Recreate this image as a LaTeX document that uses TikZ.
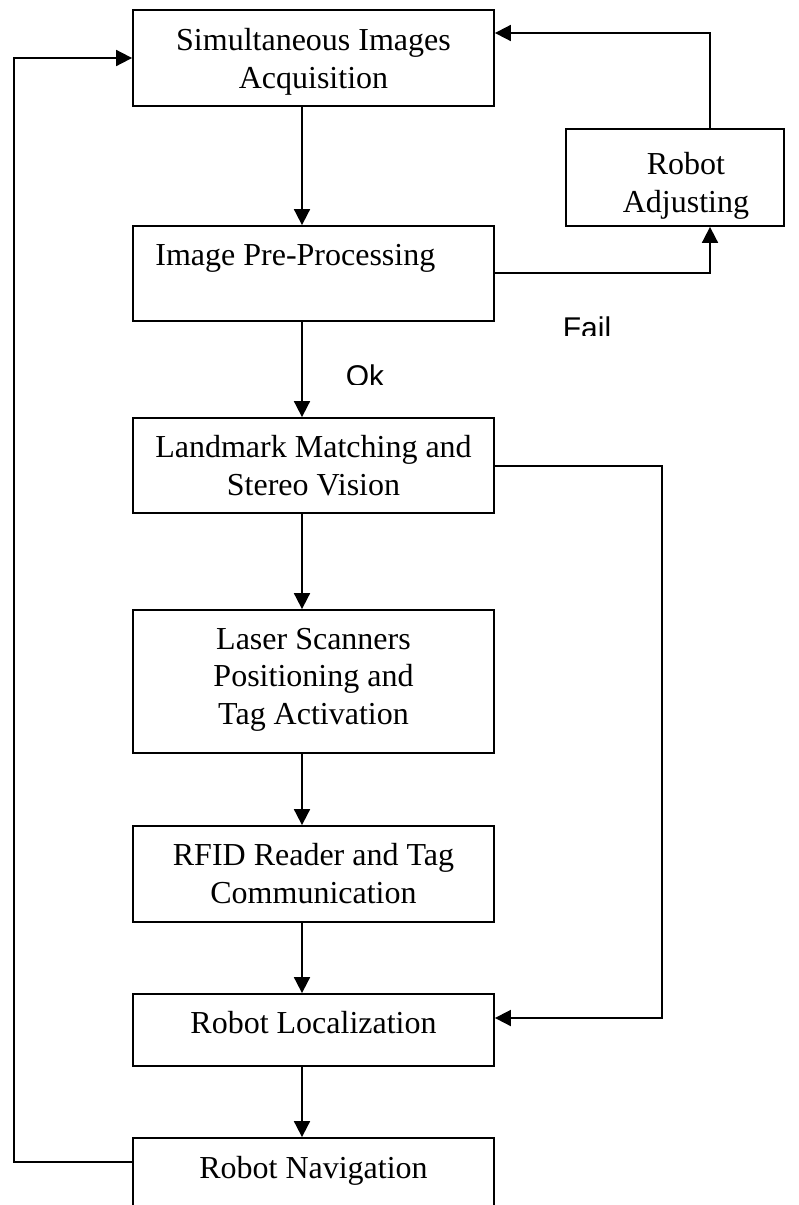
\documentclass[tikz,border=0pt]{standalone}
\usepackage{fontspec}
\setmainfont{Liberation Serif}
\newfontfamily\labelfont{Liberation Sans}
\usetikzlibrary{arrows.meta}
\begin{document}
\begin{tikzpicture}[x=0.5pt,y=-0.5pt,
  box/.style={draw, line width=0.9pt, rectangle, inner sep=0pt, minimum width=180.5pt},
  words/.style={font=\fontsize{16}{18.75}\selectfont, align=center, inner sep=0pt, anchor=base},
  flow/.style={line width=0.9pt, -{Triangle[length=8pt,width=8pt]}},
  tag/.style={font=\labelfont\fontsize{15}{18}\selectfont, inner sep=0pt, anchor=base}]
\useasboundingbox (0,0) rectangle (798,1205);
\clip (0,0) rectangle (798,1205);

% process boxes
\node[box, minimum height=48pt]   (acq)   at (313.5,58)    {};
\node[box, minimum height=47.5pt] (pre)   at (313.5,273.5) {};
\node[box, minimum height=47.5pt] (land)  at (313.5,465.5) {};
\node[box, minimum height=71.5pt] (laser) at (313.5,681.5) {};
\node[box, minimum height=48pt]   (rfid)  at (313.5,874)   {};
\node[box, minimum height=36pt]   (loc)   at (313.5,1030)  {};
\node[box, minimum height=56pt]   (nav)   at (313.5,1194)  {};
\node[box, minimum width=109pt, minimum height=48.5pt] (adj) at (675,177.5) {};

% box texts (anchored on the baseline of their last line)
\node[words] (acq-t)   at (313.5,88)  {Simultaneous Images\\Acquisition};
\node[words, anchor=base west] (pre-t) at (155,265) {Image Pre-Processing};
\node[words] (land-t)  at (313.5,495) {Landmark Matching and\\Stereo Vision};
\node[words] (laser-t) at (313.5,724) {Laser Scanners\\Positioning and\\Tag Activation};
\node[words] (rfid-t)  at (313.5,903) {RFID Reader and Tag\\Communication};
\node[words] (loc-t)   at (313.5,1033) {Robot Localization};
\node[words] (nav-t)   at (313.5,1178) {Robot Navigation};
\node[words] (adj-t)   at (686,212)   {Robot\\Adjusting};

% main vertical flow
\coordinate (ax) at (302,0);
\draw[flow] (acq.south -| ax)   -- (pre.north -| ax);
\draw[flow] (pre.south -| ax)   -- (land.north -| ax);
\draw[flow] (land.south -| ax)  -- (laser.north -| ax);
\draw[flow] (laser.south -| ax) -- (rfid.north -| ax);
\draw[flow] (rfid.south -| ax)  -- (loc.north -| ax);
\draw[flow] (loc.south -| ax)   -- (nav.north -| ax);

% failure loop through robot adjusting
\coordinate (fy) at (710,273);
\coordinate (ty) at (710,33);
\draw[flow] (pre.east |- fy) -- (fy) -- (adj.south -| fy);
\draw[flow] (adj.north -| ty) -- (ty) -- (acq.east |- ty);

% bypass from landmark matching to localization
\coordinate (bt) at (662,466);
\coordinate (bb) at (662,1018);
\draw[flow] (land.east |- bt) -- (bt) -- (bb) -- (loc.east |- bb);

% navigation loop back to acquisition
\coordinate (lb) at (14,1162);
\coordinate (lt) at (14,58);
\draw[flow] (nav.west |- lb) -- (lb) -- (lt) -- (acq.west |- lt);

% branch labels
\begin{scope}
  \clip (540,300) rectangle (640,335);
  \node[tag] (fail) at (587,338.5) {Fail};
\end{scope}
\begin{scope}
  \clip (330,350) rectangle (400,384);
  \node[tag] (ok) at (365,386.5) {Ok};
\end{scope}
\end{tikzpicture}
\end{document}
